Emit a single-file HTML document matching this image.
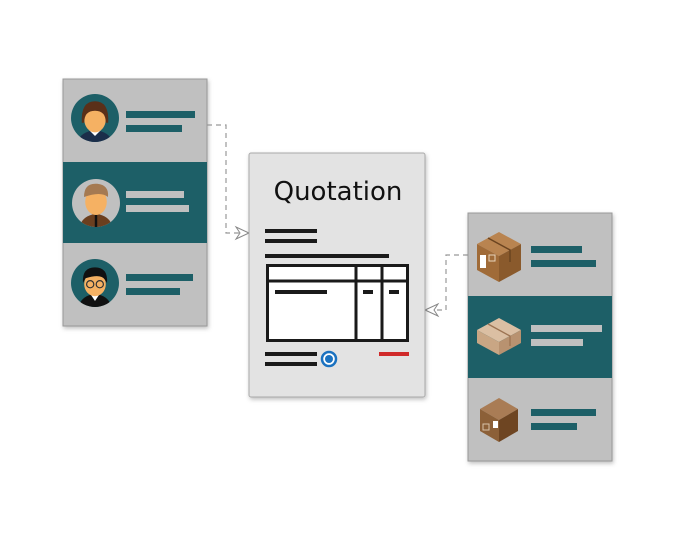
<!DOCTYPE html>
<html><head><meta charset="utf-8"><style>
html,body{margin:0;padding:0;background:#fff;width:675px;height:540px;overflow:hidden}
svg{display:block}
</style></head><body>
<svg width="675" height="540" viewBox="0 0 675 540" xmlns="http://www.w3.org/2000/svg">
<defs>
<filter id="sh" x="-10%" y="-10%" width="130%" height="130%"><feDropShadow dx="1" dy="2" stdDeviation="2" flood-color="#000" flood-opacity="0.25"/></filter>
<clipPath id="c1"><circle cx="95" cy="118" r="24"/></clipPath>
<clipPath id="c2"><circle cx="96" cy="203" r="24"/></clipPath>
<clipPath id="c3"><circle cx="95" cy="283" r="24"/></clipPath>
</defs>
<g filter="url(#sh)">
<rect x="63" y="79" width="144" height="247" fill="#c0c0c0" stroke="#999" stroke-width="1"/>
</g>
<rect x="63" y="162" width="144" height="81" fill="#1d5f67"/>
<circle cx="95" cy="118" r="24" fill="#1d5f67"/>
<g clip-path="url(#c1)"><g transform="translate(95 118) scale(1.2) translate(-95 -118)">
<path d="M80 142 Q80 130 95 128 Q110 130 110 142 Z" fill="#1b2e4a"/>
<path d="M90 128 L95 133 L100 128 Z" fill="#fff"/>
<ellipse cx="95" cy="119" rx="9" ry="11" fill="#f5b163"/>
<path d="M84 122 Q83 104 95 104 Q107 104 106 122 L104 122 Q104 112 95 112 Q86 112 86 122 Z" fill="#5a3019"/>
</g></g>
<rect x="126" y="111" width="69" height="7" fill="#1d5f67"/>
<rect x="126" y="125" width="56" height="7" fill="#1d5f67"/>
<circle cx="96" cy="203" r="24" fill="#c0c0c0"/>
<g clip-path="url(#c2)"><g transform="translate(96 203) scale(1.2) translate(-96 -203)">
<path d="M82 227 Q82 214 96 212 Q110 214 110 227 Z" fill="#6b3f1f"/>
<rect x="95" y="213" width="2" height="12" fill="#111"/>
<ellipse cx="96" cy="202" rx="9" ry="11" fill="#f5b163"/>
<path d="M86 198 Q86 186 97 187 Q107 188 106 198 Q100 193 86 198 Z" fill="#a57a52"/>
</g></g>
<rect x="126" y="191" width="58" height="7" fill="#c0c0c0"/>
<rect x="126" y="205" width="63" height="7" fill="#c0c0c0"/>
<circle cx="95" cy="283" r="24" fill="#1d5f67"/>
<g clip-path="url(#c3)"><g transform="translate(95 283) scale(1.2) translate(-95 -283)">
<path d="M81 307 Q81 294 95 292 Q109 294 109 307 Z" fill="#111"/>
<path d="M91 292 L95 298 L99 292 Z" fill="#fff"/>
<ellipse cx="95" cy="284" rx="9" ry="10" fill="#f5b163"/>
<path d="M85 283 Q84 270 95 270 Q106 270 105 283 L103 280 Q100 275 87 279 Z" fill="#111"/>
<circle cx="91" cy="284" r="3" fill="none" stroke="#333" stroke-width="1"/>
<circle cx="99" cy="284" r="3" fill="none" stroke="#333" stroke-width="1"/>
</g></g>
<rect x="126" y="274" width="67" height="7" fill="#1d5f67"/>
<rect x="126" y="288" width="54" height="7" fill="#1d5f67"/>

<g fill="none" stroke="#999" stroke-width="1.2" stroke-dasharray="5,4">
<path d="M207 125 H226 V233 H240"/>
<path d="M468 255 H446 V310 H434"/>
</g>
<path d="M236 227 L249 233 L236 239 L240 233 Z" fill="#fff" stroke="#888"/>
<path d="M438 304 L425 310 L438 316 L434 310 Z" fill="#fff" stroke="#888"/>

<g filter="url(#sh)">
<rect x="249" y="153" width="176" height="244" rx="2" fill="#e3e3e3" stroke="#aaa"/>
</g>
<text x="338" y="200" text-anchor="middle" font-family="'DejaVu Sans','Liberation Sans',sans-serif" font-size="26" fill="#111">Quotation</text>
<rect x="265" y="229" width="52" height="4" fill="#1a1a1a"/>
<rect x="265" y="239" width="52" height="4" fill="#1a1a1a"/>
<rect x="265" y="254" width="124" height="4" fill="#1a1a1a"/>
<rect x="267.5" y="265.5" width="140" height="75" fill="#fff" stroke="#1a1a1a" stroke-width="3"/>
<line x1="267" y1="281" x2="408" y2="281" stroke="#1a1a1a" stroke-width="3"/>
<line x1="356" y1="265" x2="356" y2="341" stroke="#1a1a1a" stroke-width="3"/>
<line x1="382" y1="265" x2="382" y2="341" stroke="#1a1a1a" stroke-width="3"/>
<rect x="275" y="290" width="52" height="4" fill="#1a1a1a"/>
<rect x="363" y="290" width="10" height="4" fill="#1a1a1a"/>
<rect x="389" y="290" width="10" height="4" fill="#1a1a1a"/>
<rect x="265" y="352" width="52" height="4" fill="#1a1a1a"/>
<rect x="265" y="362" width="52" height="4" fill="#1a1a1a"/>
<circle cx="329" cy="359" r="7" fill="#fff" stroke="#1b72c0" stroke-width="2.5"/>
<circle cx="329" cy="359" r="4" fill="#1b72c0"/>
<rect x="379" y="352" width="30" height="4" fill="#d02a2a"/>

<g filter="url(#sh)">
<rect x="468" y="213" width="144" height="248" fill="#c0c0c0" stroke="#999"/>
</g>
<rect x="468" y="296" width="144" height="82" fill="#1d5f67"/>
<path d="M499 232 L521 244 L499 256 L477 244 Z" fill="#b98450"/>
<path d="M477 244 L499 256 L499 282 L477 270 Z" fill="#a06b38"/>
<path d="M499 256 L521 244 L521 270 L499 282 Z" fill="#8a5a2c"/>
<path d="M488 238 L510 250 L510 262" fill="none" stroke="#6b4420" stroke-width="1.5"/>
<rect x="480" y="255" width="6" height="13" fill="#fff"/>
<rect x="489" y="255" width="6" height="6" fill="none" stroke="#e8d4bd"/>
<rect x="531" y="246" width="51" height="7" fill="#1d5f67"/>
<rect x="531" y="260" width="65" height="7" fill="#1d5f67"/>
<path d="M499 318 L521 330 L499 342 L477 330 Z" fill="#dbbfa3"/>
<path d="M477 330 L499 342 L499 355 L477 343 Z" fill="#c9a684"/>
<path d="M499 342 L521 330 L521 343 L499 355 Z" fill="#b89270"/>
<path d="M488 324 L510 336 L510 346" fill="none" stroke="#9c7352" stroke-width="1.3"/>
<rect x="531" y="325" width="71" height="7" fill="#c0c0c0"/>
<rect x="531" y="339" width="52" height="7" fill="#c0c0c0"/>
<path d="M499 398 L518 409 L499 420 L480 409 Z" fill="#a97c55"/>
<path d="M480 409 L499 420 L499 442 L480 431 Z" fill="#8c6038"/>
<path d="M499 420 L518 409 L518 431 L499 442 Z" fill="#6e4522"/>
<rect x="493" y="421" width="5" height="7" fill="#fff"/>
<rect x="483" y="424" width="6" height="6" fill="none" stroke="#d9c2a8"/>
<rect x="531" y="409" width="65" height="7" fill="#1d5f67"/>
<rect x="531" y="423" width="46" height="7" fill="#1d5f67"/>
</svg>
</body></html>
